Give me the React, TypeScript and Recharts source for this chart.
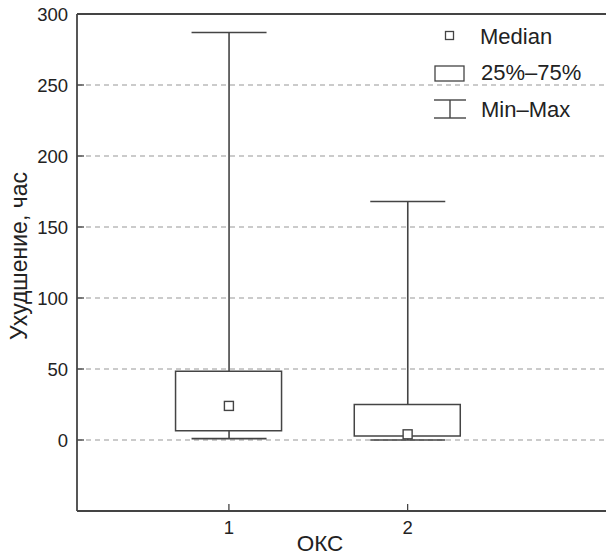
import {
	Bar,
	CartesianGrid,
	ComposedChart,
	Label,
	ReferenceLine,
	Scatter,
	XAxis,
	YAxis,
} from "recharts";

document.body.style.margin = "0";

// values
const groups = [1, 2];
const mins = [1, 0];
const q1s = [6.5, 2.8];
const medians = [24, 4];
const q3s = [48.5, 25];
const maxs = [287, 168];
const yTicks = [0, 50, 100, 150, 200, 250, 300];

const data = groups.map((g, i) => ({
	x: g,
	range: [mins[i], maxs[i]],
	box: [q1s[i], q3s[i]],
	median: medians[i],
}));

const INK = "#444";
const FONT = "'Liberation Sans', Arial, Helvetica, sans-serif";

function Whisker(props: any) {
	const { x, y, width, height } = props;
	const cx = x + width / 2;
	return (
		<g stroke={INK} strokeWidth={1.6}>
			<line x1={cx} x2={cx} y1={y} y2={y + height} />
			<line x1={x} x2={x + width} y1={y} y2={y} />
			<line x1={x} x2={x + width} y1={y + height} y2={y + height} />
		</g>
	);
}

function MedianMark(props: any) {
	const { cx, cy } = props;
	return (
		<rect
			x={cx - 4.5}
			y={cy - 4.5}
			width={9}
			height={9}
			fill="#fff"
			stroke={INK}
			strokeWidth={1.4}
		/>
	);
}

function LegendBox() {
	const text = { fontSize: 22, color: "#222", fontFamily: FONT, lineHeight: 1 };
	return (
		<div style={{ position: "absolute", left: 0, top: 0, width: 606, height: 556, pointerEvents: "none" }}>
			<svg width={606} height={556} style={{ position: "absolute", left: 0, top: 0 }}>
				<rect x={445.5} y={31.5} width={8} height={8} fill="#fff" stroke={INK} strokeWidth={1.3} />
				<rect x={435} y={66} width={29} height={15} fill="#fff" stroke={INK} strokeWidth={1.3} />
				<g stroke={INK} strokeWidth={1.4}>
					<line x1={434} x2={466} y1={100} y2={100} />
					<line x1={450} x2={450} y1={100} y2={118} />
					<line x1={434} x2={466} y1={118} y2={118} />
				</g>
			</svg>
			<div style={{ ...text, position: "absolute", left: 480, top: 26 }}>Median</div>
			<div style={{ ...text, position: "absolute", left: 481, top: 62 }}>25%–75%</div>
			<div style={{ ...text, position: "absolute", left: 481, top: 99 }}>Min–Max</div>
		</div>
	);
}

export default function App() {
	return (
		<div style={{ position: "relative", width: 606, height: 556, background: "#fff" }}>
			<ComposedChart
				width={606}
				height={556}
				data={data}
				margin={{ top: 14, right: 0, bottom: 0, left: 0 }}
				style={{ fontFamily: FONT }}
			>
				<CartesianGrid
					vertical={false}
					stroke="#bbb"
					strokeDasharray="5 4"
					strokeWidth={1.3}
				/>
				<XAxis
					dataKey="x"
					type="number"
					domain={[0.15, 3.11]}
					ticks={groups}
					height={45}
					tickSize={-7}
					tickMargin={17}
					allowDataOverflow
					axisLine={{ stroke: INK, strokeWidth: 1.8 }}
					tickLine={{ stroke: INK, strokeWidth: 1.3 }}
					tick={{ fontSize: 18.5, fill: "#222" }}
				>
					<Label
						content={() => (
							<text x={320} y={551} textAnchor="middle" fontSize={22.5} fill="#222" fontFamily={FONT}>
								ОКС
							</text>
						)}
					/>
				</XAxis>
				<XAxis
					xAxisId="w"
					dataKey="x"
					type="number"
					domain={[0.15, 3.11]}
					allowDataOverflow
					hide
				/>
				<YAxis
					type="number"
					domain={[-50, 300]}
					ticks={yTicks}
					width={77}
					tickSize={-7}
					tickMargin={16}
					allowDataOverflow
					axisLine={{ stroke: INK, strokeWidth: 1.8 }}
					tickLine={{ stroke: INK, strokeWidth: 1.3 }}
					tick={{ fontSize: 18.5, fill: "#222" }}
				>
					<Label
						content={() => (
							<text
								x={19}
								y={256}
								transform="rotate(-90, 19, 256)"
								textAnchor="middle"
								dominantBaseline="central"
								fontSize={23}
								fill="#222"
								fontFamily={FONT}
							>
								Ухудшение, час
							</text>
						)}
					/>
				</YAxis>
				<ReferenceLine y={300} stroke={INK} strokeWidth={1.8} />
				<Bar
					xAxisId="w"
					dataKey="range"
					barSize={75}
					shape={<Whisker />}
					isAnimationActive={false}
				/>
				<Bar
					dataKey="box"
					barSize={106}
					fill="#fff"
					stroke={INK}
					strokeWidth={1.5}
					isAnimationActive={false}
				/>
				<Scatter dataKey="median" shape={<MedianMark />} isAnimationActive={false} />
			</ComposedChart>
			<LegendBox />
		</div>
	);
}
